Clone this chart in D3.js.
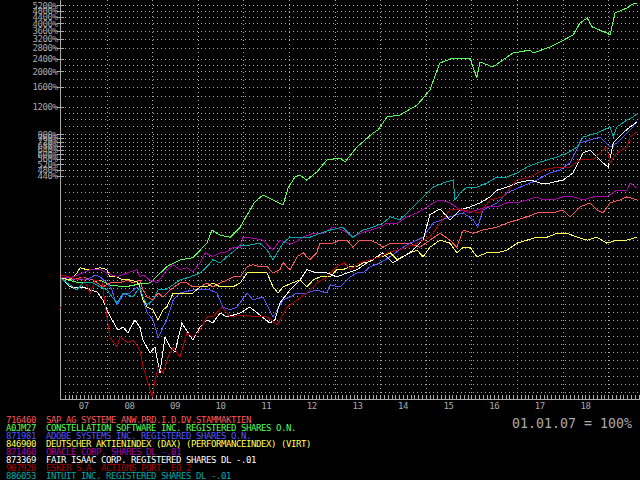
<!DOCTYPE html>
<html>
<head>
<meta charset="utf-8">
<script src="https://cdn.jsdelivr.net/npm/d3@7"></script>
<style>
  html, body { margin: 0; padding: 0; background: #000; }
  svg { display: block; background: #000; }
  text { font-family: "DejaVu Sans Mono", monospace; }
</style>
</head>
<body>
<svg width="640" height="480"></svg>
<script>
const width = 640, height = 480;
const svg = d3.select("svg");

// Each series: sample times (decimal years) and values in % of 01.01.07
const sapYears = [2007.00, 2007.13, 2007.26, 2007.48, 2007.70, 2007.92, 2008.07, 2008.29, 2008.45, 2008.58, 2008.73, 2008.80,
    2008.89, 2009.02, 2009.13, 2009.24, 2009.39, 2009.61, 2009.76, 2009.89, 2010.05, 2010.20, 2010.33, 2010.49, 2010.64,
    2010.77, 2010.93, 2011.08, 2011.21, 2011.36, 2011.52, 2011.65, 2011.80, 2011.87, 2012.02, 2012.18, 2012.31, 2012.46,
    2012.61, 2012.68, 2012.83, 2012.96, 2013.12, 2013.27, 2013.40, 2013.56, 2013.78, 2013.93, 2014.06, 2014.22, 2014.43,
    2014.65, 2014.87, 2015.09, 2015.31, 2015.53, 2015.68, 2015.82, 2016.04, 2016.25, 2016.56, 2016.78, 2017.00, 2017.22,
    2017.44, 2017.79, 2018.01, 2018.16, 2018.38, 2018.60, 2018.75, 2018.89, 2019.04, 2019.26, 2019.41, 2019.63];
const sapValues = [100, 101.5, 97.1, 101.5, 97.1, 87.8, 93.0, 93.0, 97.1, 93.0, 97.1, 84.0,
    75.9, 72.7, 80.4, 75.9, 84.0, 93.0, 93.0, 87.8, 87.8, 93.0, 87.8, 93.0, 97.1,
    101.5, 101.5, 117.7, 121, 117.7, 117.7, 107.5, 112.7, 124.7, 112.7, 136, 144, 130.2,
    144, 165.6, 165.6, 165.6, 173, 173, 156, 173, 173, 165.6, 156, 165.6, 165.6,
    165.6, 156, 173, 191, 173, 156, 200, 191, 200, 209, 221.5, 232, 242.5,
    257, 257, 268, 242.5, 280, 297, 268, 257, 297, 310, 324, 310];

const constellationYears = [2007.00, 2007.31, 2007.64, 2007.86, 2008.07, 2008.40, 2008.73, 2008.95, 2009.32, 2009.61,
    2009.89, 2010.20, 2010.31, 2010.49, 2010.71, 2010.93, 2010.99, 2011.25, 2011.43, 2011.65, 2011.87, 2011.98, 2012.13,
    2012.24, 2012.39, 2012.61, 2012.83, 2013.12, 2013.23, 2013.49, 2013.62, 2013.84, 2013.95, 2014.15, 2014.43, 2014.81,
    2015.09, 2015.25, 2015.31, 2015.60, 2015.97, 2016.12, 2016.19, 2016.47, 2016.69, 2016.91, 2017.29, 2017.35, 2017.72,
    2017.94, 2018.23, 2018.38, 2018.54, 2018.65, 2018.97, 2019.04, 2019.15, 2019.41, 2019.54, 2019.63];
const constellationValues = [100, 94.4, 93.0, 97.1, 90.4, 87.8, 91.7, 93.0, 117.7, 130,
    134, 165.6, 200, 186, 180.6, 209, 225, 301, 333, 310, 288, 368, 432,
    445, 413, 465, 553, 569, 537, 668, 718, 817, 853, 1031, 1061, 1226,
    1524, 2037, 2255, 2424, 2424, 1814, 2288, 2128, 2355, 2606, 2722, 2606, 2843,
    3057, 3384, 4027, 4330, 3800, 3484, 3384, 4656, 5005, 5304, 5381];

const adobeYears = [2007.00, 2007.26, 2007.57, 2007.75, 2007.86, 2008.01, 2008.12, 2008.18, 2008.23, 2008.36, 2008.51,
    2008.67, 2008.73, 2008.80, 2008.89, 2009.02, 2009.13, 2009.24, 2009.32, 2009.46, 2009.61, 2009.89, 2010.27, 2010.42,
    2010.55, 2010.71, 2010.86, 2011.08, 2011.21, 2011.43, 2011.65, 2011.87, 2012.02, 2012.18, 2012.39, 2012.61, 2012.83,
    2012.90, 2013.12, 2013.34, 2013.49, 2013.62, 2013.78, 2014.00, 2014.22, 2014.50, 2014.65, 2014.81, 2014.94, 2015.16,
    2015.53, 2015.82, 2016.04, 2016.14, 2016.25, 2016.56, 2016.78, 2017.07, 2017.29, 2017.44, 2017.72, 2017.94, 2018.16,
    2018.38, 2018.60, 2018.82, 2019.04, 2019.19, 2019.41, 2019.54, 2019.63];
const adobeValues = [100, 97.1, 97.1, 104.5, 101.5, 93.0, 84.0, 72.7, 67.6, 78.1, 80.4,
    87.8, 84.0, 72.7, 60.2, 54.4, 41.9, 49.1, 54.4, 72.7, 80.4, 84.0, 84.0, 80.4,
    65.6, 62.9, 65.6, 80.4, 72.7, 75.9, 56.8, 72.7, 75.9, 80.4, 80.4, 84.0, 80.4,
    90.4, 87.8, 101.5, 107.5, 107.5, 117.7, 124.7, 136, 156, 165.6, 173, 180.6, 221.5,
    242.5, 257, 232, 209, 268, 297, 343, 373, 396, 414, 458, 478, 529,
    707, 739, 771, 668, 707, 817, 892, 973];

const daxYears = [2007.00, 2007.20, 2007.35, 2007.42, 2007.57, 2007.70, 2007.86, 2008.01, 2008.07, 2008.23, 2008.36,
    2008.51, 2008.67, 2008.73, 2008.80, 2008.89, 2009.02, 2009.13, 2009.24, 2009.32, 2009.46, 2009.61, 2009.89, 2010.05,
    2010.20, 2010.33, 2010.49, 2010.77, 2010.93, 2011.08, 2011.30, 2011.52, 2011.65, 2011.76, 2011.87, 2012.07, 2012.24,
    2012.39, 2012.53, 2012.68, 2012.90, 2013.05, 2013.18, 2013.34, 2013.49, 2013.62, 2013.78, 2013.93, 2014.06, 2014.22,
    2014.37, 2014.50, 2014.65, 2014.81, 2014.94, 2015.09, 2015.31, 2015.53, 2015.68, 2015.82, 2015.97, 2016.12, 2016.34,
    2016.56, 2016.78, 2017.00, 2017.22, 2017.44, 2017.66, 2017.88, 2018.10, 2018.32, 2018.54, 2018.75, 2018.97, 2019.19,
    2019.41, 2019.63];
const daxValues = [100, 97.1, 107.5, 116, 112.7, 112.7, 116, 112.7, 101.5, 101.5, 97.1,
    97.1, 94.4, 87.8, 72.7, 65.6, 62.9, 54.4, 62.9, 65.6, 80.4, 80.4, 80.4, 87.8,
    87.8, 93.0, 87.8, 87.8, 93.0, 107.5, 107.5, 107.5, 87.8, 80.4, 87.8, 93.0, 97.1,
    87.8, 97.1, 101.5, 101.5, 112.7, 112.7, 117.7, 117.7, 124.7, 126.5, 136, 136, 144,
    130.2, 136, 144, 149.6, 136, 156, 173, 165.6, 144, 156, 156, 136, 144,
    144, 149.6, 165.6, 173, 180.6, 180.6, 191, 191, 180.6, 173, 180.6, 165.6, 173,
    173, 180.6];

const oracleYears = [2007.00, 2007.26, 2007.48, 2007.64, 2007.86, 2008.01, 2008.23, 2008.45, 2008.67, 2008.73, 2008.80,
    2008.95, 2009.11, 2009.21, 2009.32, 2009.46, 2009.61, 2009.76, 2009.89, 2010.05, 2010.16, 2010.33, 2010.49, 2010.64,
    2010.77, 2010.93, 2010.99, 2011.21, 2011.43, 2011.58, 2011.65, 2011.80, 2011.96, 2012.09, 2012.31, 2012.53, 2012.75,
    2012.96, 2013.18, 2013.40, 2013.56, 2013.78, 2014.00, 2014.15, 2014.37, 2014.59, 2014.81, 2015.03, 2015.16, 2015.31,
    2015.53, 2015.75, 2015.97, 2016.12, 2016.34, 2016.56, 2016.78, 2017.00, 2017.22, 2017.44, 2017.57, 2017.79, 2018.01,
    2018.23, 2018.45, 2018.67, 2018.97, 2019.19, 2019.41, 2019.48, 2019.63];
const oracleValues = [100, 101.5, 107.5, 112.7, 112.7, 107.5, 101.5, 107.5, 112.7, 101.5, 104.5,
    97.1, 93.0, 101.5, 112.7, 121, 112.7, 116, 109.5, 124.7, 144, 136, 144, 146,
    156, 156, 180.6, 178, 173, 156, 149.6, 173, 165.6, 165.6, 180.6, 191, 191,
    209, 200, 180.6, 191, 200, 209, 221.5, 221.5, 242.5, 257, 280, 297, 310,
    297, 268, 257, 268, 280, 280, 297, 297, 310, 324, 310, 310, 324,
    324, 310, 324, 324, 357, 357, 396, 368];

const fairIsaacYears = [2007.00, 2007.20, 2007.35, 2007.48, 2007.64, 2007.79, 2007.92, 2008.01, 2008.12, 2008.25, 2008.36,
    2008.47, 2008.62, 2008.73, 2008.80, 2008.95, 2009.06, 2009.17, 2009.28, 2009.39, 2009.50, 2009.65, 2009.79, 2009.89,
    2010.05, 2010.20, 2010.33, 2010.49, 2010.64, 2010.93, 2011.14, 2011.36, 2011.58, 2011.69, 2011.80, 2012.02, 2012.24,
    2012.39, 2012.61, 2012.83, 2013.05, 2013.27, 2013.49, 2013.71, 2013.93, 2014.06, 2014.28, 2014.50, 2014.72, 2014.94,
    2015.09, 2015.31, 2015.53, 2015.75, 2015.97, 2016.19, 2016.41, 2016.56, 2016.78, 2017.00, 2017.29, 2017.50, 2017.72,
    2018.01, 2018.23, 2018.45, 2018.60, 2018.75, 2018.89, 2019.00, 2019.11, 2019.32, 2019.48, 2019.63];
const fairIsaacValues = [100, 87.8, 86.5, 87.8, 84.0, 81.6, 72.7, 62.9, 54.4, 47.0, 49.1,
    45.1, 54.4, 49.1, 40.7, 33.7, 36.7, 25.2, 42.5, 36.7, 34.2, 52.0, 45.1, 40.7,
    49.1, 54.4, 52.1, 60.2, 56.8, 60.2, 65.6, 58.5, 52.1, 54.4, 69.6, 84.0, 97.1,
    112.7, 107.5, 107.5, 101.5, 107.5, 112.7, 124.7, 136, 144, 124.7, 136, 149.6, 173,
    250, 272, 232, 268, 280, 297, 324, 357, 373, 396, 414, 396, 396,
    414, 458, 612, 639, 577, 529, 499, 707, 817, 892, 959];

const eskerYears = [2007.00, 2007.02, 2007.20, 2007.35, 2007.48, 2007.64, 2007.75, 2007.90, 2008.07, 2008.23, 2008.29,
    2008.47, 2008.58, 2008.73, 2008.80, 2008.89, 2009.00, 2009.06, 2009.13, 2009.24, 2009.35, 2009.46, 2009.61, 2009.76,
    2009.89, 2010.05, 2010.20, 2010.33, 2010.53, 2010.71, 2010.99, 2011.30, 2011.52, 2011.74, 2011.96, 2012.18, 2012.39,
    2012.61, 2012.83, 2013.05, 2013.23, 2013.34, 2013.56, 2013.78, 2014.00, 2014.15, 2014.37, 2014.59, 2014.81, 2015.09,
    2015.25, 2015.53, 2015.82, 2016.19, 2016.41, 2016.69, 2017.00, 2017.29, 2017.57, 2017.88, 2018.16, 2018.38, 2018.67,
    2018.89, 2018.97, 2019.04, 2019.19, 2019.41, 2019.48, 2019.63];
const eskerValues = [65, 104, 101.5, 97.1, 101.5, 80.4, 97.1, 94.4, 42.5, 36.7, 42.5,
    39.0, 40.7, 35.2, 27.5, 22.7, 17.8, 22.7, 27.5, 25.2, 31.8, 36.7, 31.8, 45.1,
    42.5, 47.0, 56.8, 56.8, 65.6, 56.8, 58.5, 56.8, 56.8, 50.6, 65.6, 72.7, 80.4,
    93.0, 101.5, 117.7, 124.7, 112.7, 124.7, 130.2, 136, 144, 149.6, 156, 165.6, 180.6,
    209, 268, 268, 257, 310, 324, 414, 432, 478, 499, 499, 553, 553,
    639, 668, 529, 612, 668, 771, 829];

const intuitYears = [2007.00, 2007.13, 2007.26, 2007.35, 2007.48, 2007.70, 2007.86, 2008.01, 2008.12, 2008.23, 2008.36,
    2008.58, 2008.73, 2008.80, 2008.89, 2009.02, 2009.13, 2009.28, 2009.39, 2009.61, 2009.83, 2010.05, 2010.20, 2010.33,
    2010.49, 2010.64, 2010.77, 2010.93, 2011.14, 2011.36, 2011.52, 2011.65, 2011.87, 2012.02, 2012.24, 2012.46, 2012.68,
    2012.90, 2013.18, 2013.40, 2013.62, 2013.84, 2014.06, 2014.22, 2014.43, 2014.65, 2014.81, 2014.94, 2015.16, 2015.38,
    2015.60, 2015.64, 2015.75, 2015.90, 2016.12, 2016.34, 2016.56, 2016.78, 2017.00, 2017.22, 2017.44, 2017.66, 2017.88,
    2018.10, 2018.32, 2018.45, 2018.75, 2019.04, 2019.11, 2019.19, 2019.41, 2019.54, 2019.63];
const intuitValues = [100, 93.0, 87.8, 84.0, 93.0, 93.0, 87.8, 84.0, 75.9, 69.6, 80.4,
    75.9, 87.8, 75.9, 67.6, 72.7, 84.0, 84.0, 87.8, 97.1, 101.5, 107.5, 117.7, 130.2,
    124.7, 136, 146, 161, 161, 165.6, 149.6, 130.2, 165.6, 180.6, 180.6, 180.6, 191,
    200, 209, 180.6, 200, 209, 221.5, 242.5, 232, 268, 297, 324, 373, 396,
    414, 310, 343, 373, 373, 396, 432, 432, 458, 499, 529, 553, 577,
    612, 668, 771, 817, 892, 771, 892, 987, 1031, 1077];

const codes = ["716460", "A0JM27", "871981", "846900", "871460", "873369", "907928", "886053"];
const names = [
    "SAP AG SYSTEME ANW.PRD.I.D.DV.STAMMAKTIEN",
    "CONSTELLATION SOFTWARE INC. REGISTERED SHARES O.N.",
    "ADOBE SYSTEMS INC. REGISTERED SHARES O.N.",
    "DEUTSCHER AKTIENINDEX (DAX) (PERFORMANCEINDEX) (VIRT)",
    "ORACLE CORP. SHARES DL -.01",
    "FAIR ISAAC CORP. REGISTERED SHARES DL -.01",
    "ESKER S.A. ACTIONS PORT. EO 2",
    "INTUIT INC. REGISTERED SHARES DL -.01"
];
const seriesYears = [sapYears, constellationYears, adobeYears, daxYears,
    oracleYears, fairIsaacYears, eskerYears, intuitYears];
const seriesValues = [sapValues, constellationValues, adobeValues, daxValues,
    oracleValues, fairIsaacValues, eskerValues, intuitValues];
const colors = ["#ff5555", "#55ff55", "#5555ff", "#ffff55", "#aa00aa", "#ffffff", "#aa0000", "#00aaaa"];

const yTickLabels = [5200, 4800, 4400, 4000, 3600, 3200, 2800, 2400, 2000, 1600, 1200,
    800, 760, 720, 680, 640, 600, 560, 520, 480, 440];
const yExtraGrid = [2200, 1800, 1400, 1100, 1000, 900];
const yearLabels = ["07", "08", "09", "10", "11", "12", "13", "14", "15", "16", "17", "18"];

const axisColor = "#aaaaaa";
const plotLeft = 61, plotRight = 640, plotTop = 0, plotBottom = 399;
const smallFont = "9px", smallSpacing = "-0.42px";

const x = d3.scaleLinear()
    .domain([2007, 2019.697])
    .range([plotLeft, plotRight]);
const y = d3.scaleLog()
    .domain([17.3, 5620])
    .range([plotBottom, plotTop]);

const px = v => Math.round(v) + 0.5;

// dotted grid
function drawGrid() {
    const g = svg.append("g")
        .attr("stroke", axisColor)
        .attr("stroke-width", 1)
        .attr("stroke-dasharray", "1,3")
        .attr("shape-rendering", "crispEdges");

    const years = d3.range(2008, 2020);
    g.selectAll(".vgrid").data(years).enter().append("line")
        .attr("x1", d => px(x(d))).attr("x2", d => px(x(d)))
        .attr("y1", plotTop).attr("y2", plotBottom - 4);

    // labelled levels, a few extra levels, then a fixed pixel step below 440%
    const levels = yTickLabels.concat(yExtraGrid).map(v => y(v));
    for (let py = y(440) + 8; py < plotBottom - 6; py += 8) levels.push(py);
    g.selectAll(".hgrid").data(levels).enter().append("line")
        .attr("x1", plotLeft + 4).attr("x2", plotRight)
        .attr("y1", d => px(d)).attr("y2", d => px(d));
}

function drawAxes() {
    svg.append("line")
        .attr("x1", plotLeft - 0.5).attr("x2", plotLeft - 0.5)
        .attr("y1", 0).attr("y2", plotBottom + 1)
        .attr("stroke", axisColor).attr("shape-rendering", "crispEdges");

    const yt = svg.append("g");
    yt.selectAll("line").data(yTickLabels).enter().append("line")
        .attr("x1", 57).attr("x2", 64)
        .attr("y1", d => px(y(d))).attr("y2", d => px(y(d)))
        .attr("stroke", axisColor).attr("shape-rendering", "crispEdges");
    yt.selectAll("text").data(yTickLabels).enter().append("text")
        .attr("x", 57.5).attr("y", d => y(d) + 3.3)
        .attr("text-anchor", "end")
        .attr("fill", axisColor)
        .style("font-size", smallFont)
        .style("letter-spacing", smallSpacing)
        .text(d => d + "%");

    svg.append("line")
        .attr("x1", plotLeft - 1).attr("x2", plotRight)
        .attr("y1", plotBottom + 0.5).attr("y2", plotBottom + 0.5)
        .attr("stroke", axisColor).attr("shape-rendering", "crispEdges");

    // monthly ticks
    const months = d3.range(1, 153).map(m => 2007 + m / 12);
    svg.append("g").selectAll("line").data(months).enter().append("line")
        .attr("x1", d => px(x(d))).attr("x2", d => px(x(d)))
        .attr("y1", plotBottom - 4).attr("y2", plotBottom)
        .attr("stroke", axisColor).attr("shape-rendering", "crispEdges");

    svg.append("g").selectAll("text").data(yearLabels).enter().append("text")
        .attr("x", (d, i) => x(2007.5 + i))
        .attr("y", plotBottom + 10)
        .attr("text-anchor", "middle")
        .attr("fill", axisColor)
        .style("font-size", smallFont)
        .style("letter-spacing", smallSpacing)
        .text(d => d);
}

function drawLines() {
    const line = d3.line()
        .x(d => x(d.t))
        .y(d => y(d.value));

    const series = seriesValues.map((vals, i) => ({
        color: colors[i],
        points: vals.map((v, j) => ({ t: seriesYears[i][j], value: v }))
    }));

    svg.append("g").selectAll("path").data(series).enter().append("path")
        .attr("d", d => line(d.points))
        .attr("fill", "none")
        .attr("stroke", d => d.color)
        .attr("stroke-width", 1)
        .attr("shape-rendering", "crispEdges");
}

function drawLegend() {
    const rows = svg.append("g").selectAll("g").data(codes).enter().append("g")
        .attr("transform", (d, i) => `translate(0,${422.5 + i * 8})`);
    rows.append("text")
        .attr("x", 6)
        .attr("fill", (d, i) => colors[i])
        .style("font-size", smallFont)
        .style("letter-spacing", smallSpacing)
        .text(d => d);
    rows.append("text")
        .attr("x", 46)
        .attr("fill", (d, i) => colors[i])
        .style("font-size", smallFont)
        .style("letter-spacing", smallSpacing)
        .text((d, i) => names[i]);

    svg.append("text")
        .attr("x", 632).attr("y", 428)
        .attr("text-anchor", "end")
        .attr("fill", axisColor)
        .style("font-size", "13.3px")
        .text("01.01.07 = 100%");
}

drawGrid();
drawAxes();
drawLines();
drawLegend();
</script>
</body>
</html>
